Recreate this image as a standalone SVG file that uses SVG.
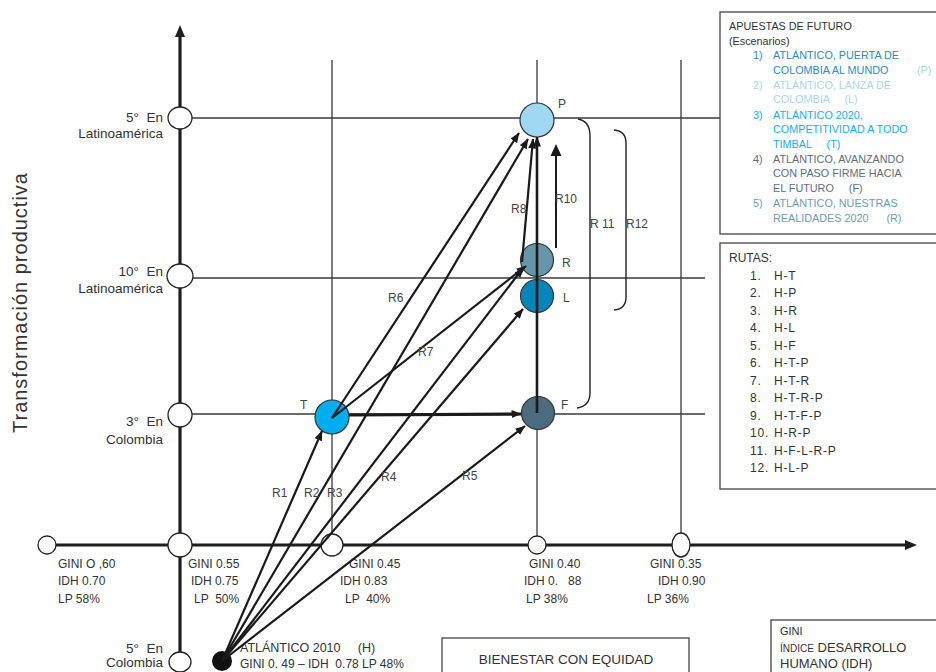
<svg xmlns="http://www.w3.org/2000/svg" width="936" height="672" viewBox="0 0 936 672">
<defs>
<marker id="ah" viewBox="0 0 10 8" refX="9.5" refY="4" markerWidth="10" markerHeight="8" markerUnits="userSpaceOnUse" orient="auto">
<path d="M0,0 L10,4 L0,8 z" fill="#1a1a1a"/>
</marker>
<style>
.grid{stroke:#3a3a3a;stroke-width:1.3;fill:none}
.axis{stroke:#1e1e1e;stroke-width:3.2;fill:none}
.anode{fill:#fff;stroke:#222;stroke-width:1.3}
.snode{stroke:#333;stroke-width:1.2}
.con{stroke:#1a1a1a;stroke-width:2.2;fill:none;marker-end:url(#ah)}
.brk{stroke:#222;stroke-width:1.4;fill:none}
.box{fill:#fff;stroke:#444;stroke-width:1.3}
.t{font-family:"Liberation Sans",Arial,sans-serif;fill:#333}
.s13{font-size:13.5px}
.s12{font-size:12px}
.s11{font-size:10.8px}
.lab{font-family:"Liberation Sans",Arial,sans-serif;font-size:12px;fill:#444}
.c1{fill:#2a8cc2}.c2{fill:#a9d6ee}.c3{fill:#17aee8}.c4{fill:#5f6e7a}.c5{fill:#6e9db3}
</style>
</defs>

<!-- grid -->
<g id="grid">
<line class="grid" x1="192" y1="118" x2="720" y2="118"/>
<line class="grid" x1="193" y1="278" x2="705" y2="278"/>
<line class="grid" x1="192" y1="414" x2="705" y2="414"/>
<line class="grid" x1="332" y1="60" x2="332" y2="545"/>
<line class="grid" x1="537" y1="60" x2="537" y2="545"/>
<line class="grid" x1="681" y1="60" x2="681" y2="545"/>
</g>

<!-- axes -->
<g id="axes">
<line class="axis" x1="180" y1="36" x2="180" y2="672"/>
<path d="M180,25 L175,37 L185,37 z" fill="#1e1e1e"/>
<line class="axis" x1="50" y1="545" x2="905" y2="545"/>
<path d="M917,545 L905,540 L905,550 z" fill="#1e1e1e"/>
<text class="t" transform="translate(27,433) rotate(-90)" font-size="20" fill="#444" textLength="260" lengthAdjust="spacing">Transformación productiva</text>
</g>

<!-- axis nodes -->
<g id="y-5-latam">
<ellipse class="anode" cx="180" cy="118" rx="12" ry="11"/>
<text class="t s13" x="163" y="122" text-anchor="end" xml:space="preserve">5°  En</text>
<text class="t s13" x="163" y="138" text-anchor="end">Latinoamérica</text>
</g>
<g id="y-10-latam">
<ellipse class="anode" cx="180" cy="276" rx="13" ry="12"/>
<text class="t s13" x="163" y="276" text-anchor="end" xml:space="preserve">10°  En</text>
<text class="t s13" x="163" y="293" text-anchor="end">Latinoamérica</text>
</g>
<g id="y-3-col">
<ellipse class="anode" cx="180" cy="415" rx="12" ry="12"/>
<text class="t s13" x="163" y="426" text-anchor="end" xml:space="preserve">3°  En</text>
<text class="t s13" x="163" y="444" text-anchor="end">Colombia</text>
</g>
<g id="y-5-col">
<ellipse class="anode" cx="180" cy="662" rx="11" ry="10"/>
<text class="t s13" x="163" y="653" text-anchor="end" xml:space="preserve">5°  En</text>
<text class="t s13" x="163" y="667" text-anchor="end">Colombia</text>
</g>
<g id="x-060">
<circle class="anode" cx="47" cy="545" r="9"/>
<text class="t s12" x="58" y="568" xml:space="preserve">GINI O ,60</text>
<text class="t s12" x="58" y="585">IDH 0.70</text>
<text class="t s12" x="58" y="603">LP 58%</text>
</g>
<g id="x-055">
<circle class="anode" cx="180" cy="545" r="12"/>
<text class="t s12" x="188" y="568">GINI 0.55</text>
<text class="t s12" x="191" y="585">IDH 0.75</text>
<text class="t s12" x="194" y="603" xml:space="preserve">LP  50%</text>
</g>
<g id="x-045">
<circle class="anode" cx="332" cy="545" r="11"/>
<text class="t s12" x="349" y="568">GINI 0.45</text>
<text class="t s12" x="340" y="585">IDH 0.83</text>
<text class="t s12" x="345" y="603" xml:space="preserve">LP  40%</text>
</g>
<g id="x-040">
<circle class="anode" cx="537" cy="545" r="9"/>
<text class="t s12" x="529" y="568">GINI 0.40</text>
<text class="t s12" x="524" y="585" xml:space="preserve">IDH 0.   88</text>
<text class="t s12" x="526" y="603">LP 38%</text>
</g>
<g id="x-035">
<ellipse class="anode" cx="681" cy="545" rx="9" ry="12"/>
<text class="t s12" x="650" y="568">GINI 0.35</text>
<text class="t s12" x="658" y="585">IDH 0.90</text>
<text class="t s12" x="647" y="603">LP 36%</text>
</g>

<!-- scenario nodes -->
<g id="node-P">
<circle class="snode" cx="537" cy="120" r="17" fill="#a0d8f4"/>
<text class="lab" x="558" y="108">P</text>
</g>
<g id="node-R">
<circle class="snode" cx="537" cy="260" r="16.5" fill="#6596ab"/>
<text class="lab" x="562" y="267">R</text>
</g>
<g id="node-L">
<circle class="snode" cx="537" cy="296" r="16.5" fill="#0585b9"/>
<text class="lab" x="563" y="302">L</text>
</g>
<g id="node-F">
<circle class="snode" cx="538" cy="413" r="16.5" fill="#4d6b7e"/>
<text class="lab" x="561" y="409">F</text>
</g>
<g id="node-T">
<circle class="snode" cx="332" cy="417" r="17" fill="#00aeef"/>
<text class="lab" x="300" y="409">T</text>
</g>
<g id="node-H">
<circle cx="222" cy="661" r="10" fill="#111"/>
<text class="t" font-size="12.5" x="240" y="652" xml:space="preserve">ATLÁNTICO 2010     (H)</text>
<text class="t" font-size="12" x="240" y="668" xml:space="preserve">GINI 0. 49 – IDH  0.78 LP 48%</text>
</g>

<!-- connectors -->
<g id="connectors">
<line class="con" x1="222" y1="661" x2="322" y2="431"/>
<line class="con" x1="222" y1="661" x2="528" y2="139"/>
<line class="con" x1="222" y1="661" x2="523" y2="268"/>
<line class="con" x1="222" y1="661" x2="523" y2="309"/>
<line class="con" x1="222" y1="661" x2="525" y2="426"/>
<line class="con" x1="332" y1="418" x2="519" y2="133"/>
<line class="con" x1="332" y1="418" x2="526" y2="266"/>
<line class="con" x1="349" y1="415" x2="521" y2="414" style="stroke-width:3.2"/>
<line class="con" x1="522" y1="262" x2="533" y2="139"/>
<line class="con" x1="537" y1="413" x2="537" y2="137" style="stroke-width:2.6"/>
<line x1="556" y1="248" x2="556" y2="154" stroke="#1a1a1a" stroke-width="2"/>
<path d="M556,144 L550.5,156 L561.5,156 z" fill="#1a1a1a"/>
<path class="brk" d="M578,119 Q590,121 590,136 L590,393 Q590,406 577,408"/>
<path class="brk" d="M614,130 Q626,131 626,143 L626,297 Q626,309 614,310"/>
<text class="lab" x="272" y="497">R1</text>
<text class="lab" x="304" y="497">R2</text>
<text class="lab" x="327" y="497">R3</text>
<text class="lab" x="381" y="481">R4</text>
<text class="lab" x="462" y="480">R5</text>
<text class="lab" x="388" y="302">R6</text>
<text class="lab" x="418" y="356">R7</text>
<text class="lab" x="511" y="213">R8</text>
<text class="lab" x="555" y="203">R10</text>
<text class="lab" x="590" y="228">R 11</text>
<text class="lab" x="626" y="228">R12</text>
</g>

<!-- legend: scenarios -->
<g id="legend-escenarios">
<rect class="box" x="720" y="12" width="222" height="222"/>
<text class="t s11" x="729" y="30">APUESTAS DE FUTURO</text>
<text class="t s11" x="729" y="45">(Escenarios)</text>
<g class="s11" font-family="Liberation Sans, Arial, sans-serif">
<text class="c1" x="753" y="59">1)</text>
<text class="c1" x="773" y="59">ATLÁNTICO, PUERTA DE</text>
<text class="c1" x="773" y="74">COLOMBIA AL MUNDO</text>
<text class="c2" x="917" y="74">(P)</text>
<text class="c2" x="753" y="89">2)</text>
<text class="c2" x="773" y="89">ATLÁNTICO, LANZA DE</text>
<text class="c2" x="773" y="103" xml:space="preserve">COLOMBIA     (L)</text>
<text class="c3" x="753" y="119">3)</text>
<text class="c3" x="773" y="119">ATLÁNTICO 2020,</text>
<text class="c3" x="773" y="133">COMPETITIVIDAD A TODO</text>
<text class="c3" x="773" y="148" xml:space="preserve">TIMBAL     (T)</text>
<text class="c4" x="753" y="163">4)</text>
<text class="c4" x="773" y="163">ATLÁNTICO, AVANZANDO</text>
<text class="c4" x="773" y="177">CON PASO FIRME HACIA</text>
<text class="c4" x="773" y="192" xml:space="preserve">EL FUTURO     (F)</text>
<text class="c5" x="753" y="207">5)</text>
<text class="c5" x="773" y="207">ATLÁNTICO, NUESTRAS</text>
<text class="c5" x="773" y="222" xml:space="preserve">REALIDADES 2020      (R)</text>
</g>
</g>

<!-- legend: routes -->
<g id="legend-rutas">
<rect class="box" x="720" y="243" width="222" height="246"/>
<text class="t s12" x="729" y="262">RUTAS:</text>
<g class="t s12" letter-spacing="0.8">
<text x="750" y="280">1.</text><text x="774" y="280">H-T</text>
<text x="750" y="297">2.</text><text x="774" y="297">H-P</text>
<text x="750" y="315">3.</text><text x="774" y="315">H-R</text>
<text x="750" y="332">4.</text><text x="774" y="332">H-L</text>
<text x="750" y="350">5.</text><text x="774" y="350">H-F</text>
<text x="750" y="367">6.</text><text x="774" y="367">H-T-P</text>
<text x="750" y="385">7.</text><text x="774" y="385">H-T-R</text>
<text x="750" y="402">8.</text><text x="774" y="402">H-T-R-P</text>
<text x="750" y="420">9.</text><text x="774" y="420">H-T-F-P</text>
<text x="750" y="437">10.</text><text x="774" y="437">H-R-P</text>
<text x="750" y="455">11.</text><text x="774" y="455">H-F-L-R-P</text>
<text x="750" y="472">12.</text><text x="774" y="472">H-L-P</text>
</g>
</g>

<!-- bottom boxes -->
<g id="box-bienestar">
<rect class="box" x="442" y="638" width="247" height="50"/>
<text class="t s13" x="566" y="664" text-anchor="middle">BIENESTAR CON EQUIDAD</text>
</g>
<g id="box-gini">
<rect class="box" x="771" y="620" width="170" height="70"/>
<text class="t" x="780" y="635" font-size="11">GINI</text>
<text class="t" x="780" y="652" font-size="13"><tspan font-size="10">ÍNDICE</tspan> DESARROLLO</text>
<text class="t" x="780" y="668" font-size="13">HUMANO (IDH)</text>
</g>
</svg>
